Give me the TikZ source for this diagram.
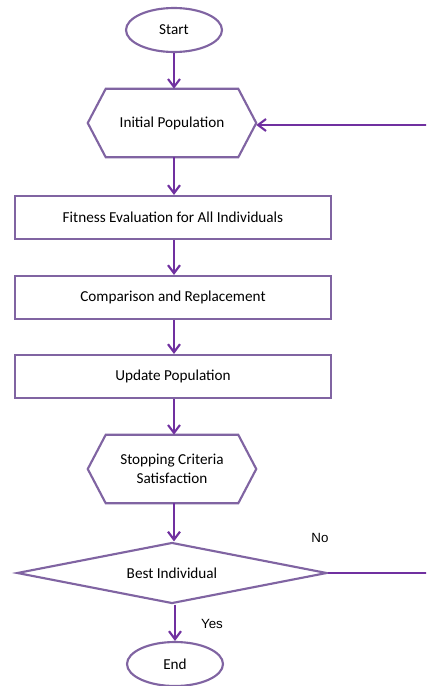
\documentclass[tikz,border=0pt]{standalone}
\usepackage{fontspec}
\setmainfont{Carlito}
\newfontfamily\lblfont{Liberation Sans}
\usetikzlibrary{arrows.meta,shapes.geometric}
\definecolor{outl}{HTML}{8064A2}
\definecolor{arr}{HTML}{7030A0}
\tikzset{
  box/.style={draw=outl, line width=1.6pt, rectangle, minimum width=316*0.75pt, minimum height=43*0.75pt, inner sep=0pt, font=\fontsize{11.4}{13}\selectfont},
  term/.style={draw=outl, line width=1.6pt, ellipse, minimum width=96*0.75pt, minimum height=44*0.75pt, inner sep=0pt, font=\fontsize{11.4}{13}\selectfont},
  hexcore/.style={rectangle, minimum width=132*0.75pt, minimum height=68*0.75pt, inner sep=0pt, align=center, font=\fontsize{11.4}{14}\selectfont},
  hexline/.style={draw=outl, line width=1.6pt, line join=miter},
  dec/.style={draw=outl, line width=1.6pt, diamond, aspect=5.1, minimum width=310*0.75pt, minimum height=61*0.75pt, inner sep=0pt, font=\fontsize{11.4}{13}\selectfont},
  flow/.style={draw=arr, line width=1.6pt, -{Straight Barb[length=6pt,width=9pt,line width=1.6pt]}},
  flowplain/.style={draw=arr, line width=1.6pt},
  lbl/.style={font=\lblfont\fontsize{10}{12}\selectfont, inner sep=0pt}
}
\newcommand{\hexdraw}[1]{\draw[hexline] ([xshift=-18*0.75pt]#1.west) -- (#1.north west) -- (#1.north east) -- ([xshift=18*0.75pt]#1.east) -- (#1.south east) -- (#1.south west) -- cycle;}
\begin{document}
\begin{tikzpicture}[x=0.75pt,y=-0.75pt]
\useasboundingbox (0,0) rectangle (426,686);
\clip (0,0) rectangle (426,686);
\node[term] (start) at (174,30) {Start};
\node[hexcore] (init) at (172,123) {Initial Population};
\hexdraw{init}
\node[box] (fit) at (173,217.5) {Fitness Evaluation for All Individuals};
\node[box] (comp) at (173,297.5) {Comparison and Replacement};
\node[box] (upd) at (173,376.5) {Update Population};
\node[hexcore] (stop) at (172,469) {Stopping Criteria\\Satisfaction};
\hexdraw{stop}
\node[dec] (best) at (172,573) {Best Individual};
\node[term] (end) at (175,664) {End};
\coordinate (rb) at (432,573);
\coordinate (rt) at (432,125);
\node[lbl] (no) at (320,538) {No};
\node[lbl] (yes) at (212,624) {Yes};
\draw[flow] (start.south) -- (start.south |- init.north);
\draw[flow] (init.south -| start.south) -- (start.south |- fit.north);
\draw[flow] (fit.south -| start.south) -- (start.south |- comp.north);
\draw[flow] (comp.south -| start.south) -- (start.south |- upd.north);
\draw[flow] (upd.south -| start.south) -- (start.south |- stop.north);
\draw[flow] (stop.south -| start.south) -- (start.south |- best.north);
\draw[flow] (best.south -| end.north) -- (end.north);
\draw[flowplain] (best.east) -- (rb) -- (rt);
\draw[flow] (rt) -- ([xshift=18*0.75pt]init.east |- rt);
\end{tikzpicture}
\end{document}
